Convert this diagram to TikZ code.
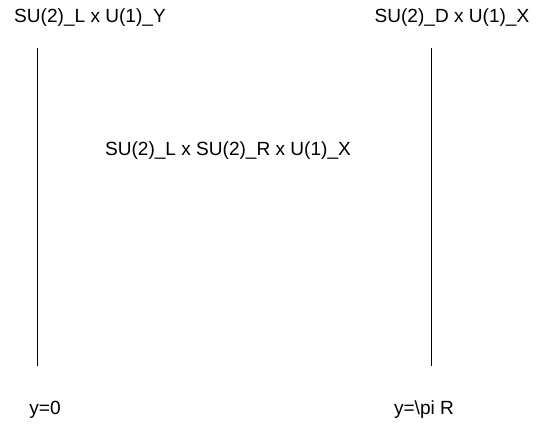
\documentclass[tikz,border=0pt]{standalone}
\usepackage{fontspec}
\setmainfont{Liberation Sans}
\usetikzlibrary{positioning}

\begin{document}
\begin{tikzpicture}[x=0.75pt,y=-0.75pt,font=\fontsize{14.3}{17}\selectfont,
        brane/.style={semithick,black}]
        \useasboundingbox (0,0) rectangle (536,426);
        % the two branes
        \coordinate (b0top) at (37,48);
        \coordinate (b0bot) at (37,366);
        \coordinate (b1top) at (431,48);
        \coordinate (b1bot) at (431,366);
        \draw[brane] (b0top) -- (b0bot);
        \draw[brane] (b1top) -- (b1bot);

        \node (g0) at (90,18) {SU(2)\_L x U(1)\_Y};
        \node (g1) at (452,18) {SU(2)\_D x U(1)\_X};
        \node (bulk) at (228,151) {SU(2)\_L x SU(2)\_R x U(1)\_X};
        \node (y0) at (45,410) {y=0};
        \node (y1) at (424,410) {y=\textbackslash pi R};
    \end{tikzpicture}
\end{document}
